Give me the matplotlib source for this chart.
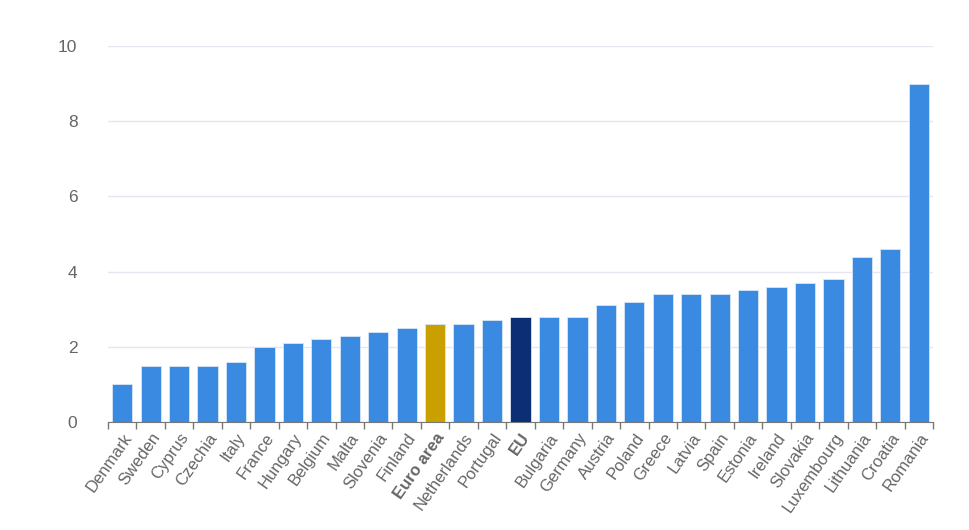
import numpy as np
import matplotlib.pyplot as plt

plt.rcParams['font.family'] = ['Liberation Sans', 'DejaVu Sans']

countries = ['Denmark', 'Sweden', 'Cyprus', 'Czechia', 'Italy', 'France', 'Hungary',
             'Belgium', 'Malta', 'Slovenia', 'Finland', 'Euro area', 'Netherlands',
             'Portugal', 'EU', 'Bulgaria', 'Germany', 'Austria', 'Poland', 'Greece',
             'Latvia', 'Spain', 'Estonia', 'Ireland', 'Slovakia', 'Luxembourg',
             'Lithuania', 'Croatia', 'Romania']
values = [1.0, 1.5, 1.5, 1.5, 1.6, 2.0, 2.1, 2.2, 2.3, 2.4, 2.5, 2.6, 2.6,
          2.7, 2.8, 2.8, 2.8, 3.1, 3.2, 3.4, 3.4, 3.4, 3.5, 3.6, 3.7, 3.8,
          4.4, 4.6, 9.0]
yticks = [0, 2, 4, 6, 8, 10]

colors = []
for c in countries:
    if c == 'Euro area':
        colors.append('#c9a000')
    elif c == 'EU':
        colors.append('#0b2e74')
    else:
        colors.append('#3a8ae2')

fig = plt.figure(figsize=(9.7, 5.3), dpi=100)
ax = fig.add_axes([0.1113, 0.2038, 0.8506, 0.7094])

x = np.arange(len(countries))
ax.bar(x, values, width=0.71, color=colors, edgecolor='#d8e6f7', linewidth=0.6, zorder=3)

ax.set_xlim(-0.5, len(countries) - 0.5)
ax.set_ylim(0, 10)
ax.set_yticks(yticks)
ax.set_yticklabels([str(t) for t in yticks], fontsize=12.5, color='#666666')
ax.tick_params(axis='y', length=0, pad=22)
ax.grid(axis='y', color='#e6e6f2', linewidth=1, zorder=0)

# category labels centered under bars, tick marks between bars
ax.set_xticks(x)
ax.set_xticklabels(countries, rotation=55, ha='right', rotation_mode='anchor',
                   fontsize=12, color='#666666')
ax.tick_params(axis='x', length=0, pad=6)
for lab in ax.get_xticklabels():
    if lab.get_text() in ('Euro area', 'EU'):
        lab.set_fontweight('bold')
ax.set_xticks(np.arange(-0.5, len(countries)), minor=True)
ax.tick_params(axis='x', which='minor', length=5, color='#777777', width=1)

for s in ['top', 'right', 'left']:
    ax.spines[s].set_visible(False)
ax.spines['bottom'].set_color('#777777')
ax.spines['bottom'].set_zorder(4)

fig.savefig('out.png', dpi=100)
